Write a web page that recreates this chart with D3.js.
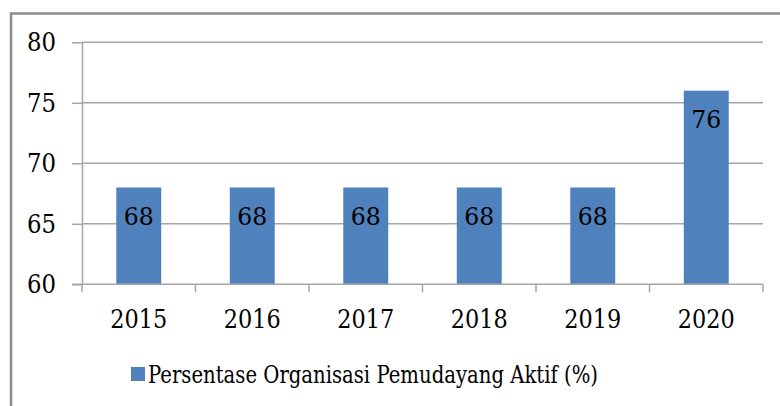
<!DOCTYPE html>
<html>
<head>
<meta charset="utf-8">
<script src="https://cdn.jsdelivr.net/npm/d3@7"></script>
<style>
  html, body { margin: 0; padding: 0; background: #fff; }
  svg { display: block; }
  text { font-family: "DejaVu Serif", serif; fill: #000; }
</style>
</head>
<body>
<svg id="chart" width="780" height="406"></svg>
<script>
// Youth organisation activity, by year
const years = ["2015", "2016", "2017", "2018", "2019", "2020"];
const activePercent = [68, 68, 68, 68, 68, 76];
const yTicks = [60, 65, 70, 75, 80];
const seriesName = "Persentase Organisasi Pemudayang Aktif (%)";

const svg = d3.select("#chart");
const W = 780, H = 406;
const plot = { left: 82, right: 763, top: 42.3, bottom: 284.3 };
const barColor = "#4f81bd";
const gridColor = "#a6a6a6";
const serif = "DejaVu Serif";

// outer frame (runs off the right and bottom edges)
svg.append("rect")
  .attr("x", 11).attr("y", 13.5)
  .attr("width", W + 20).attr("height", H + 20)
  .attr("fill", "none")
  .attr("stroke", "#8c8c8c")
  .attr("stroke-width", 2.5);

const x = d3.scaleBand()
  .domain(years)
  .range([plot.left, plot.right])
  .paddingInner(0.604)
  .paddingOuter(0.302);

const y = d3.scaleLinear()
  .domain([60, 80])
  .range([plot.bottom, plot.top]);

// horizontal gridlines
svg.append("g")
  .selectAll("line")
  .data(yTicks.filter(t => t > 60))
  .join("line")
  .attr("x1", plot.left).attr("x2", plot.right)
  .attr("y1", d => y(d)).attr("y2", d => y(d))
  .attr("stroke", gridColor)
  .attr("stroke-width", 1.5);

// y axis
const yAxis = svg.append("g")
  .attr("transform", `translate(${plot.left},0)`)
  .call(d3.axisLeft(y).tickValues(yTicks).tickSize(10).tickPadding(16).tickSizeOuter(0));
yAxis.attr("font-family", serif);
yAxis.select(".domain").attr("stroke", gridColor).attr("stroke-width", 1.5);
yAxis.selectAll(".tick line").attr("stroke", gridColor).attr("stroke-width", 1.5);
yAxis.selectAll(".tick text")
  .attr("font-size", 26)
  .attr("font-family", serif)
  .attr("textLength", 29)
  .attr("lengthAdjust", "spacingAndGlyphs")
  .attr("fill", "#000");

// bars
svg.append("g")
  .selectAll("rect")
  .data(years.map((yr, i) => ({ yr, v: activePercent[i] })))
  .join("rect")
  .attr("x", d => x(d.yr))
  .attr("y", d => y(d.v))
  .attr("width", x.bandwidth())
  .attr("height", d => y(60) - y(d.v))
  .attr("fill", barColor);

// value labels inside the bar tops
svg.append("g")
  .selectAll("text")
  .data(years.map((yr, i) => ({ yr, v: activePercent[i] })))
  .join("text")
  .attr("x", d => x(d.yr) + x.bandwidth() / 2)
  .attr("y", d => y(d.v) + 37.5)
  .attr("text-anchor", "middle")
  .attr("font-family", serif)
  .attr("font-size", 25)
  .attr("textLength", 30)
  .attr("lengthAdjust", "spacingAndGlyphs")
  .text(d => d.v);

// x axis with ticks between categories
const xAxis = svg.append("g")
  .attr("transform", `translate(0,${plot.bottom})`);
xAxis.append("line")
  .attr("x1", plot.left - 10).attr("x2", plot.right)
  .attr("stroke", gridColor).attr("stroke-width", 1.5);
const step = x.step();
const boundaries = d3.range(years.length + 1).map(i => plot.left + i * step);
xAxis.selectAll("line.tk")
  .data(boundaries)
  .join("line")
  .attr("class", "tk")
  .attr("x1", d => d).attr("x2", d => d)
  .attr("y1", 0).attr("y2", 8)
  .attr("stroke", gridColor).attr("stroke-width", 1.5);
xAxis.selectAll("text")
  .data(years)
  .join("text")
  .attr("x", d => x(d) + x.bandwidth() / 2)
  .attr("y", 44)
  .attr("text-anchor", "middle")
  .attr("font-family", serif)
  .attr("font-size", 26)
  .attr("textLength", 57)
  .attr("lengthAdjust", "spacingAndGlyphs")
  .text(d => d);

// legend
const legend = svg.append("g").attr("transform", "translate(131,367)");
legend.append("rect")
  .attr("x", 0).attr("y", 0)
  .attr("width", 14).attr("height", 14)
  .attr("fill", barColor);
legend.append("text")
  .attr("x", 17).attr("y", 16)
  .attr("font-family", serif)
  .attr("font-size", 24)
  .attr("textLength", 450)
  .attr("lengthAdjust", "spacingAndGlyphs")
  .text(seriesName);
</script>
</body>
</html>
